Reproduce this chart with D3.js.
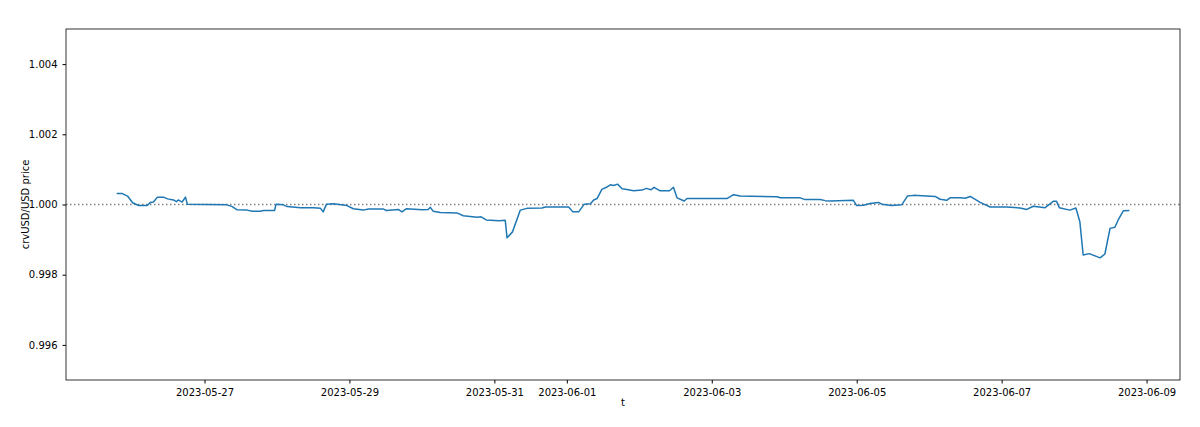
<!DOCTYPE html>
<html>
<head>
<meta charset="utf-8">
<script src="https://cdn.jsdelivr.net/npm/d3@7"></script>
<style>
body { margin: 0; background: #fff; }
text { font-family: "DejaVu Sans", sans-serif; }
</style>
</head>
<body>
<svg id="chart"></svg>
<script>
// hours since 2023-05-26 00:00 UTC
const hours = [-5.1,-3.2,-1.5,0.2,2.2,5.0,6.1,7.1,8.4,10.4,11.8,13.7,14.7,15.3,16.6,17.7,18.3,31.5,33.2,34.8,38.1,39.8,42.5,43.5,47.2,47.7,50.1,51.4,55.8,60.1,62.4,63.3,64.4,66.7,71.2,73.3,76.6,78.3,83.3,84.2,88.2,89.4,90.9,96.1,98.1,98.8,99.7,102.1,107.6,109.7,114.3,115.6,117.3,121.6,
  123.6,124.2,126.0,128.6,130.8,135.8,136.9,144.6,146.0,147.9,149.8,151.8,152.9,154.0,155.6,157.1,158.4,159.5,160.8,162.3,163.9,166.1,168.9,170.3,171.9,172.9,174.9,178.0,179.3,180.5,182.9,183.8,197.0,199.2,201.4,213.6,214.7,221.3,222.9,227.9,229.6,
  231.2,238.9,240.0,242.2,244.4,247.2,248.3,251.6,254.9,256.8,258.8,266.0,267.6,269.8,270.9,274.3,275.9,277.6,280.9,284.2,289.7,294.1,296.3,298.5,302.4,305.1,306.2,307.1,310.6,312.6,313.9,315.0,317.0,320.6,322.2,323.9,325.5,326.6,328.3,330.3];
const price = [1.00031,1.00031,1.00024,1.00005,0.99997,0.99997,1.00006,1.00007,1.00021,1.00021,1.00016,1.00013,1.00008,1.00013,1.00007,1.00021,1.00001,0.99999,0.99994,0.99985,0.99984,0.99981,0.99981,0.99983,0.99983,1.00001,0.99999,0.99994,0.99991,0.99991,0.99989,0.99979,1.00001,1.00002,0.99997,0.99988,0.99984,0.99987,0.99987,0.99983,0.99986,0.99979,0.99988,0.99985,0.99986,0.99992,0.99981,0.99977,0.99976,0.99968,0.99964,0.99965,0.99956,0.99954,
  0.99955,0.99905,0.99922,0.99984,0.99989,0.99990,0.99993,0.99993,0.99979,0.99979,1.00001,1.00002,1.00013,1.00017,1.00043,1.00049,1.00056,1.00054,1.00058,1.00045,1.00043,1.00039,1.00041,1.00046,1.00042,1.00049,1.00039,1.00039,1.00049,1.00019,1.00010,1.00017,1.00017,1.00028,1.00024,1.00022,1.00019,1.00019,1.00014,1.00014,1.00011,
  1.00010,1.00012,0.99997,0.99998,1.00003,1.00006,1.00001,0.99997,0.99999,1.00024,1.00026,1.00023,1.00015,1.00012,1.00019,1.00019,1.00018,1.00023,1.00006,0.99993,0.99993,0.99990,0.99986,0.99995,0.99991,1.00009,1.00009,0.99991,0.99984,0.99990,0.99951,0.99856,0.99860,0.99848,0.99859,0.99932,0.99935,0.99956,0.99982,0.99983];
const xTicks = ["2023-05-27","2023-05-29","2023-05-31","2023-06-01","2023-06-03","2023-06-05","2023-06-07","2023-06-09"];
const yTicks = [0.996, 0.998, 1.000, 1.002, 1.004];

const W = 1200, H = 427;
const margin = {top: 29, right: 20, bottom: 47, left: 66};
const iw = W - margin.left - margin.right, ih = H - margin.top - margin.bottom;

const t0 = Date.UTC(2023, 4, 26);
const data = hours.map((h, i) => ({t: new Date(t0 + h * 3600e3), y: price[i]}));

const svg = d3.select('#chart').attr('width', W).attr('height', H);
const g = svg.append('g').attr('transform', `translate(${margin.left},${margin.top})`);

const ext = d3.extent(data, d => +d.t);
const pad = (ext[1] - ext[0]) * 0.05;
const x = d3.scaleUtc().domain([ext[0] - pad, ext[1] + pad]).range([0, iw]);
const y = d3.scaleLinear().domain([0.995, 1.005]).range([ih, 0]);

const xAxis = d3.axisBottom(x).tickValues(xTicks.map(s => new Date(s + "T00:00:00Z")))
  .tickFormat(d3.utcFormat('%Y-%m-%d')).tickSize(3.5).tickPadding(5).tickSizeOuter(0);
const yAxis = d3.axisLeft(y).tickValues(yTicks).tickFormat(d3.format('.3f'))
  .tickSize(3.5).tickPadding(5).tickSizeOuter(0);

g.append('g').attr('transform', `translate(0,${ih})`).call(xAxis)
  .call(a => a.select('.domain').remove())
  .selectAll('text').attr('font-size', 10).attr('fill', '#000');
g.append('g').call(yAxis)
  .call(a => a.select('.domain').remove())
  .selectAll('text').attr('font-size', 10).attr('fill', '#000');

// reference line at 1.0
g.append('line').attr('x1', 0).attr('x2', iw).attr('y1', y(1)).attr('y2', y(1))
  .attr('stroke', '#808080').attr('stroke-width', 1.3).attr('stroke-dasharray', '1.5,2.5');

g.append('path').datum(data)
  .attr('d', d3.line().x(d => x(d.t)).y(d => y(d.y)))
  .attr('fill', 'none').attr('stroke', '#1f77b4').attr('stroke-width', 1.5).attr('stroke-linejoin', 'round');

g.append('rect').attr('width', iw).attr('height', ih).attr('fill', 'none').attr('stroke', '#000').attr('stroke-width', 0.8);

svg.append('text').attr('x', margin.left + iw / 2).attr('y', 406).attr('text-anchor', 'middle')
  .attr('font-size', 10).text('t');
svg.append('text').attr('transform', `translate(29,${margin.top + ih / 2}) rotate(-90)`)
  .attr('text-anchor', 'middle').attr('font-size', 10).text('crvUSD/USD price');
</script>
</body>
</html>
